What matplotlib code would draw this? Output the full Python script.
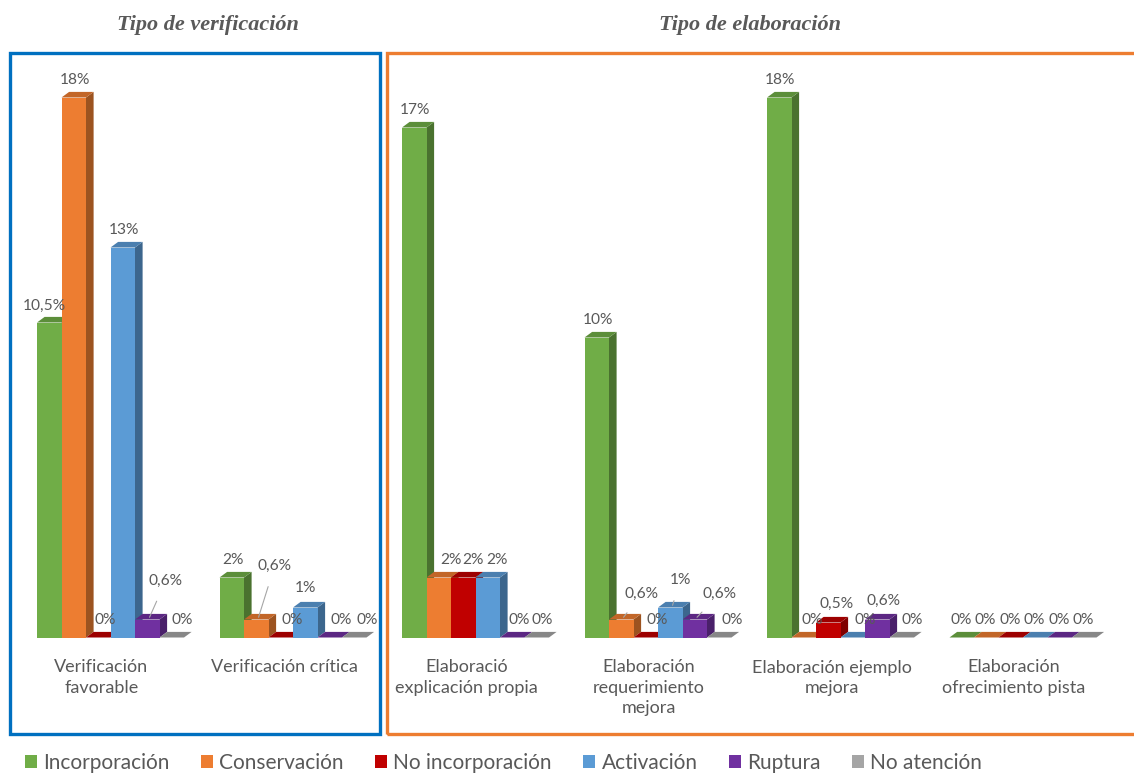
import matplotlib
matplotlib.use("Agg")
import matplotlib.pyplot as plt
import numpy as np
from matplotlib.patches import Polygon, Rectangle, Patch
from matplotlib.colors import to_rgb

# ---------------- data ----------------
categories = ["Verificación\nfavorable", "Verificación crítica",
              "Elaboració\nexplicación propia", "Elaboración\nrequerimiento\nmejora",
              "Elaboración ejemplo\nmejora", "Elaboración\nofrecimiento pista"]
series = ["Incorporación", "Conservación", "No incorporación", "Activación",
          "Ruptura", "No atención"]
incorporacion    = [10.5, 2.0, 17.0, 10.0, 18.0, 0.0]
conservacion     = [18.0, 0.6, 2.0, 0.6, 0.0, 0.0]
no_incorporacion = [0.0, 0.0, 2.0, 0.0, 0.5, 0.0]
activacion       = [13.0, 1.0, 2.0, 1.0, 0.0, 0.0]
ruptura          = [0.6, 0.0, 0.0, 0.6, 0.6, 0.0]
no_atencion      = [0.0, 0.0, 0.0, 0.0, 0.0, 0.0]
values = [incorporacion, conservacion, no_incorporacion, activacion, ruptura, no_atencion]

label_text = [
    ["10,5%", "2%", "17%", "10%", "18%", "0%"],
    ["18%", "0,6%", "2%", "0,6%", "0%", "0%"],
    ["0%", "0%", "2%", "0%", "0,5%", "0%"],
    ["13%", "1%", "2%", "1%", "0%", "0%"],
    ["0,6%", "0%", "0%", "0,6%", "0,6%", "0%"],
    ["0%", "0%", "0%", "0%", "0%", "0%"],
]

# label placement (pixels) relative to bar front-top centre  [series][group]
label_dx = [
    [-5, 1, 1, 1, 1, -1],
    [1, 16, 12, 18, 8, -1],
    [7, 11, 10, 11, 8, -1],
    [1, 0, 9, 8, 12, -1],
    [16, 11, 7, 22, 6, -1],
    [10, 13, 5, 13, 10, -1],
]
label_dy = [
    [17, 18, 18, 17, 17, 18],
    [17, 51, 17, 23, 18, 18],
    [18, 18, 17, 18, 19, 18],
    [17, 19, 17, 25, 18, 18],
    [36, 18, 18, 23, 19, 18],
    [18, 18, 18, 18, 18, 18],
]
leader = [
    [0, 0, 0, 0, 0, 0],
    [0, 1, 0, 1, 0, 0],
    [0, 0, 0, 0, 0, 0],
    [0, 0, 0, 1, 0, 0],
    [1, 0, 0, 1, 0, 0],
    [0, 0, 0, 0, 0, 0],
]

colors = ["#70AD47", "#ED7D31", "#C00000", "#5B9BD5", "#7030A0", "#A5A5A5"]

# ---------------- layout ----------------
W, H = 1134, 775
fig = plt.figure(figsize=(W / 100, H / 100), dpi=100)
plt.rcParams['font.family'] = ['Lato', 'DejaVu Sans']

GROUP_PX = 182.5
BAR_PX = 24.5
CENTER0_PX = 37 + 3 * BAR_PX
PX_PER_UNIT_Y = 30.0
BASE_PX = 637.5
YMAX = 19.0

x_left_px = CENTER0_PX - 0.5 * GROUP_PX
ax = fig.add_axes([x_left_px / W, (H - BASE_PX) / H,
                   6 * GROUP_PX / W, YMAX * PX_PER_UNIT_Y / H])
ax.set_xlim(-0.5, 5.5)
ax.set_ylim(0, YMAX)
ax.axis('off')

w = BAR_PX / GROUP_PX
ddx = 7.6 / GROUP_PX
ddy = 5.6 / PX_PER_UNIT_Y
groups = np.arange(len(categories))


def shade(c, f):
    r, g, b = to_rgb(c)
    return (r * f, g * f, b * f)


text_col = "#595959"
for j, (vals, col) in enumerate(zip(values, colors)):
    lefts = groups + (j - 3) * w
    # back faces (side + top)
    for x0, h in zip(lefts, vals):
        side = Polygon([(x0 + w, 0), (x0 + w + ddx, ddy), (x0 + w + ddx, h + ddy), (x0 + w, h)],
                       closed=True, facecolor=shade(col, 0.66), edgecolor='none',
                       zorder=2, clip_on=False)
        top = Polygon([(x0, h), (x0 + w, h), (x0 + w + ddx, h + ddy), (x0 + ddx, h + ddy)],
                      closed=True, facecolor=shade(col, 0.82), edgecolor='none',
                      zorder=2, clip_on=False)
        ax.add_patch(side)
        ax.add_patch(top)
    ax.bar(lefts, vals, width=w, align='edge', color=col, zorder=3, clip_on=False,
           linewidth=0)

# value labels
VAL_FS = 11.2
for j in range(6):
    for i in range(6):
        h = values[j][i]
        xc = i + (j - 2.5) * w
        dxp, dyp = label_dx[j][i], label_dy[j][i]
        if leader[j][i]:
            ax.annotate(label_text[j][i], xy=(xc + ddx * 0.3, h + ddy * 0.4),
                        xytext=(dxp, dyp), textcoords='offset pixels',
                        ha='center', va='center', fontsize=VAL_FS, color=text_col,
                        arrowprops=dict(arrowstyle='-', color='#A6A6A6', lw=0.8,
                                        shrinkA=8, shrinkB=0), zorder=5)
        else:
            ax.annotate(label_text[j][i], xy=(xc, h), xytext=(dxp, dyp),
                        textcoords='offset pixels', ha='center', va='center',
                        fontsize=VAL_FS, color=text_col, zorder=5)

# category labels
for i, cat in enumerate(categories):
    ax.annotate(cat, xy=(i, 0), xytext=(-9, -22), textcoords='offset pixels',
                ha='center', va='top', fontsize=13, color=text_col,
                linespacing=1.32)

# titles
for xt, tt in [(208, "Tipo de verificación"), (750, "Tipo de elaboración")]:
    fig.text(xt / W, 1 - 25 / H, tt, ha='center', va='center',
             fontsize=16, fontstyle='italic', fontweight='bold', color='#595959',
             family='Liberation Serif')

# boxes
fig.add_artist(Rectangle((10 / W, 1 - 734 / H), 370 / W, 681 / H, transform=fig.transFigure,
                         fill=False, edgecolor='#0070C0', linewidth=2.4))
fig.add_artist(Rectangle((387 / W, 1 - 734 / H), 760 / W, 681 / H, transform=fig.transFigure,
                         fill=False, edgecolor='#ED7D31', linewidth=2.4, clip_on=False))

# legend
handles = [Patch(facecolor=c, edgecolor='none', label=s) for s, c in zip(series, colors)]
fig.legend(handles=handles, loc='center left', bbox_to_anchor=(25 / W, 1 - 763 / H),
           ncol=6, frameon=False, fontsize=15, handlelength=0.58, handleheight=0.58,
           handletextpad=0.3, columnspacing=1.5, labelcolor=text_col, borderpad=0,
           borderaxespad=0)

fig.savefig("out.png", dpi=100)
